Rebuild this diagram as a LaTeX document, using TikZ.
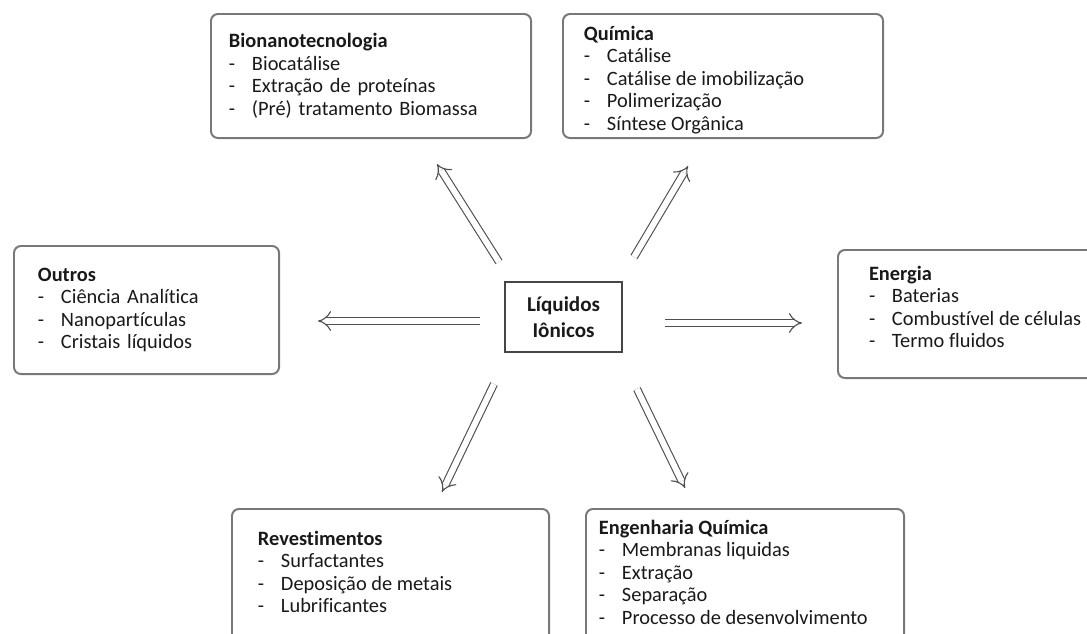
\documentclass[tikz,border=0pt]{standalone}
\usepackage{fontspec}
\setmainfont{Carlito}[Ligatures=NoCommon]
\usetikzlibrary{arrows.meta}

\definecolor{framegray}{RGB}{120,120,120}
\definecolor{coregray}{RGB}{70,70,70}
\definecolor{inkgray}{RGB}{25,25,25}
\definecolor{arrowgray}{RGB}{80,80,80}

% one list entry: dash, then the item
\newcommand{\itm}[1]{\makebox[0.575cm][l]{-}#1}

\begin{document}
\begin{tikzpicture}[
        x=0.025cm, y=-0.025cm,
        area/.style={draw=framegray, line width=1.4pt, rounded corners=5pt, align=left,
            anchor=north west, inner ysep=0pt, text=inkgray,
            font=\fontsize{14.5}{16}\selectfont},
        core/.style={draw=coregray, line width=1.4pt, align=center, text=inkgray,
            minimum width=2.925cm, minimum height=1.75cm, inner sep=0pt,
            font=\fontsize{15}{18.5}\selectfont\bfseries},
        link/.style={draw=arrowgray, line width=0.8pt, double=white,
            double distance=4.2pt, -{Implies}},
    ]

    % frame of the page
    \useasboundingbox (0,0) rectangle (1087,633);
    \clip (0,0) rectangle (1087,633);

    % centre
    \node[core] (core) at (563.5,317) {Líquidos\\Iônicos};

    % fields of application
    \node[area, minimum height=3.1cm, text width=7.1cm, inner xsep=0.45cm] (bio) at (210,13)
        {\textbf{Bionanotecnologia}\\ \itm{Biocatálise}\\ \itm{Extração de proteínas}\\ \itm{(Pré) tratamento Biomassa}};
    \node[area, inner xsep=0.525cm, inner ysep=0.3cm] (qui) at (562,13)
        {\parbox[c][2.5cm][t]{6.95cm}{\textbf{Química}\\ \itm{Catálise}\\ \itm{Catálise de imobilização}\\ \itm{Polimerização}\\ \itm{Síntese Orgânica}}};
    \node[area, minimum height=3.2cm, text width=5.425cm, inner xsep=0.6cm] (out) at (13,245)
        {\textbf{Outros}\\ \itm{Ciência Analítica}\\ \itm{Nanopartículas}\\ \itm{Cristais líquidos}};
    \node[area, inner xsep=0.775cm, inner ysep=0.4cm] (ene) at (837,249)
        {\parbox[c][2.4cm][t]{5.95cm}{\textbf{Energia}\\ \itm{Baterias}\\ \itm{Combustível de células}\\ \itm{Termo fluidos}}};
    \node[area, inner xsep=0.65cm, inner ysep=0.55cm] (rev) at (231,508)
        {\parbox[c][3.75cm][t]{6.625cm}{\textbf{Revestimentos}\\ \itm{Surfactantes}\\ \itm{Deposição de metais}\\ \itm{Lubrificantes}}};
    \node[area, inner xsep=0.325cm, inner ysep=0.275cm] (eng) at (585,508)
        {\parbox[c][3.75cm][t]{7.3cm}{\textbf{Engenharia Química}\\ \itm{Membranas liquidas}\\ \itm{Extração}\\ \itm{Separação}\\ \itm{Processo de desenvolvimento}}};

    % arrow ends
    \coordinate (bio tail) at (499,262);
    \coordinate (bio head) at (437,164);
    \coordinate (qui tail) at (634,257);
    \coordinate (qui head) at (688,166);
    \coordinate (out tail) at (480,321);
    \coordinate (out head) at (318,321);
    \coordinate (ene tail) at (665,323);
    \coordinate (ene head) at (802,323);
    \coordinate (rev tail) at (494,384);
    \coordinate (rev head) at (442,492);
    \coordinate (eng tail) at (637,389);
    \coordinate (eng head) at (685,488);

    % arrows
    \foreach \a in {bio,qui,out,ene,rev,eng}
        \draw[link] (\a\space tail) -- (\a\space head);

\end{tikzpicture}
\end{document}
